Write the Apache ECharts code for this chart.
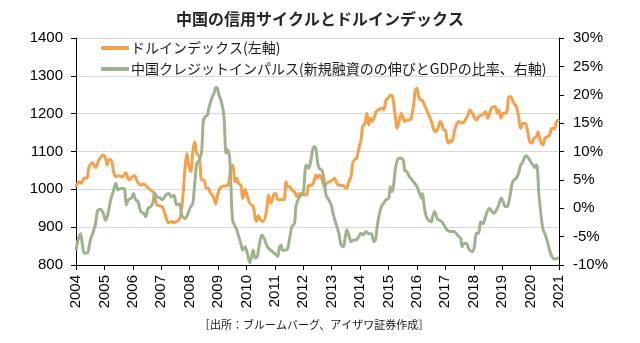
<!DOCTYPE html>
<html>
<head>
<meta charset="utf-8">
<script src="https://cdn.jsdelivr.net/npm/echarts@6/dist/echarts.min.js"></script>
<style>
html,body{margin:0;padding:0;background:#fff;}
#chart{width:640px;height:343px;}
</style>
</head>
<body>
<div id="chart"></div>
<script>
const titleText = '中国の信用サイクルとドルインデックス';
const sourceText = '［出所：ブルームバーグ、アイザワ証券作成］';
const dollarName = 'ドルインデックス(左軸)';
const impulseName = '中国クレジットインパルス(新規融資のの伸びとGDPの比率、右軸)';
const yearTicks = [2004, 2021];

const dollarYears = [2004.00,2004.11,2004.19,2004.28,2004.38,2004.46,2004.58,2004.69,2004.81,2004.95,2005.04,2005.10,2005.16,2005.24,2005.31,2005.40,2005.51,2005.63,2005.75,2005.87,2005.98,2006.07,2006.16,2006.28,2006.39,2006.49,2006.63,2006.75,2006.84,2006.96,2007.04,2007.16,2007.25,2007.39,2007.43,2007.54,2007.66,2007.75,2007.84,2007.90,2007.95,2008.04,2008.11,2008.18,2008.25,2008.34,2008.42,2008.51,2008.58,2008.66,2008.74,2008.83,2008.92,2008.98,2009.07,2009.19,2009.30,2009.37,2009.44,2009.51,2009.60,2009.66,2009.71,2009.80,2009.87,2009.95,2010.03,2010.12,2010.24,2010.34,2010.42,2010.50,2010.59,2010.71,2010.77,2010.83,2010.86,2010.95,2011.02,2011.10,2011.18,2011.27,2011.33,2011.39,2011.45,2011.53,2011.60,2011.69,2011.77,2011.86,2011.96,2012.04,2012.12,2012.19,2012.27,2012.35,2012.45,2012.51,2012.57,2012.66,2012.74,2012.82,2012.92,2013.03,2013.10,2013.18,2013.27,2013.36,2013.45,2013.53,2013.60,2013.68,2013.74,2013.80,2013.88,2013.97,2014.03,2014.09,2014.17,2014.24,2014.30,2014.36,2014.42,2014.51,2014.56,2014.65,2014.77,2014.83,2014.91,2014.98,2015.06,2015.12,2015.18,2015.24,2015.30,2015.38,2015.45,2015.50,2015.57,2015.65,2015.73,2015.80,2015.89,2015.94,2016.00,2016.06,2016.12,2016.18,2016.24,2016.32,2016.39,2016.47,2016.53,2016.59,2016.67,2016.74,2016.82,2016.88,2016.94,2017.00,2017.06,2017.12,2017.18,2017.23,2017.33,2017.41,2017.47,2017.55,2017.62,2017.70,2017.80,2017.86,2017.92,2018.01,2018.09,2018.17,2018.27,2018.36,2018.41,2018.50,2018.56,2018.62,2018.71,2018.76,2018.83,2018.88,2018.95,2019.03,2019.11,2019.18,2019.23,2019.30,2019.38,2019.50,2019.58,2019.65,2019.73,2019.82,2019.89,2019.97,2020.05,2020.12,2020.20,2020.26,2020.32,2020.38,2020.44,2020.50,2020.59,2020.67,2020.75,2020.85,2020.91,2020.97,2021.00];
const dollarValues = [1007,1020,1016,1029,1029,1060,1070,1058,1078,1091,1082,1064,1078,1078,1051,1033,1036,1033,1044,1025,1033,1036,1020,1011,1014,1007,998,989,959,956,954,928,912,915,912,915,923,972,1060,1095,1069,1047,1100,1126,1095,1086,1025,1025,1003,1003,989,981,961,985,1003,1009,1009,1016,1051,1064,1020,1029,1016,1011,976,1000,981,963,954,915,930,919,915,945,985,972,963,985,989,974,972,974,972,1020,1007,1007,998,994,981,988,989,985,985,1011,1011,1016,1038,1029,1038,1025,1007,1016,1020,1025,1029,1016,1011,1011,1007,1003,1020,1033,1069,1078,1082,1113,1130,1166,1174,1201,1170,1188,1179,1192,1205,1210,1214,1210,1236,1240,1249,1249,1227,1192,1161,1183,1201,1192,1179,1183,1183,1188,1227,1263,1267,1245,1236,1236,1227,1214,1201,1188,1174,1157,1152,1161,1179,1174,1157,1157,1130,1122,1130,1126,1157,1174,1179,1176,1176,1183,1196,1210,1205,1192,1183,1192,1196,1201,1205,1188,1201,1214,1218,1218,1201,1210,1188,1201,1201,1210,1245,1245,1232,1218,1192,1161,1174,1174,1157,1126,1122,1135,1139,1152,1135,1122,1117,1135,1139,1144,1161,1161,1179,1183,1185];

const impulseYears = [2004.00,2004.07,2004.16,2004.22,2004.28,2004.40,2004.46,2004.52,2004.61,2004.69,2004.77,2004.87,2004.96,2005.04,2005.13,2005.22,2005.31,2005.40,2005.48,2005.57,2005.69,2005.77,2005.84,2005.95,2006.02,2006.10,2006.18,2006.28,2006.39,2006.45,2006.54,2006.63,2006.70,2006.77,2006.86,2006.96,2007.04,2007.16,2007.27,2007.36,2007.45,2007.54,2007.64,2007.72,2007.84,2007.92,2008.01,2008.11,2008.19,2008.25,2008.34,2008.42,2008.48,2008.54,2008.62,2008.69,2008.78,2008.86,2008.93,2008.98,2009.03,2009.13,2009.21,2009.28,2009.33,2009.40,2009.44,2009.51,2009.60,2009.66,2009.71,2009.80,2009.87,2009.95,2010.03,2010.12,2010.18,2010.24,2010.30,2010.38,2010.45,2010.54,2010.62,2010.71,2010.78,2010.86,2010.95,2011.04,2011.10,2011.16,2011.22,2011.27,2011.37,2011.45,2011.53,2011.60,2011.69,2011.74,2011.84,2011.92,2012.00,2012.07,2012.12,2012.19,2012.27,2012.33,2012.39,2012.45,2012.51,2012.57,2012.66,2012.74,2012.80,2012.86,2012.98,2013.06,2013.15,2013.25,2013.33,2013.41,2013.48,2013.53,2013.60,2013.68,2013.76,2013.86,2013.95,2014.03,2014.11,2014.21,2014.30,2014.40,2014.48,2014.54,2014.60,2014.68,2014.75,2014.83,2014.91,2015.01,2015.06,2015.12,2015.18,2015.24,2015.30,2015.36,2015.45,2015.53,2015.57,2015.65,2015.73,2015.83,2015.92,2016.00,2016.09,2016.16,2016.20,2016.24,2016.30,2016.36,2016.41,2016.51,2016.55,2016.62,2016.71,2016.79,2016.88,2016.98,2017.06,2017.18,2017.29,2017.38,2017.47,2017.54,2017.59,2017.66,2017.74,2017.82,2017.92,2017.97,2018.03,2018.09,2018.17,2018.24,2018.33,2018.41,2018.50,2018.56,2018.64,2018.71,2018.80,2018.88,2018.97,2019.03,2019.11,2019.18,2019.27,2019.35,2019.42,2019.50,2019.58,2019.65,2019.73,2019.79,2019.86,2019.93,2020.00,2020.09,2020.14,2020.20,2020.24,2020.29,2020.36,2020.44,2020.52,2020.59,2020.67,2020.75,2020.85,2020.94,2021.00];
const impulseValues = [-7.4,-5.6,-4.5,-6.2,-7.8,-7.9,-6.8,-5.3,-4.1,-2.7,-0.3,-0.2,-0.9,-2.1,-0.9,1.5,2.9,4.4,3.2,3.5,3.5,0.6,1.5,1.8,2.6,1.5,1.2,-0.6,-0.9,-1.5,0.0,0.3,0.9,2.6,2.0,1.8,1.5,2.3,2.6,2.0,2.3,0.6,0.8,-1.2,-1.8,-1.2,0.0,0.9,5.0,7.9,8.5,10.0,15.3,16.1,16.4,17.9,19.4,20.3,21.3,21.1,20.0,18.5,16.1,9.7,10.3,9.4,5.6,-2.1,-3.2,-3.8,-4.7,-6.2,-7.4,-6.8,-7.9,-9.6,-8.5,-7.4,-8.8,-8.5,-6.5,-4.7,-5.3,-6.5,-7.1,-7.4,-7.8,-8.2,-8.5,-6.8,-6.5,-7.4,-7.4,-7.1,-5.0,-3.2,-2.7,0.3,1.8,2.3,2.6,7.0,7.6,7.0,8.5,10.3,10.9,10.3,7.9,7.0,6.7,4.7,2.3,1.8,0.6,-1.2,-2.7,-4.4,-6.5,-6.8,-5.0,-3.8,-4.7,-5.9,-5.6,-5.6,-5.0,-4.4,-4.7,-4.1,-4.5,-4.5,-5.9,-5.6,-3.2,-0.9,0.3,0.9,1.5,1.8,3.8,2.9,4.1,7.0,8.2,8.8,8.8,8.2,6.7,6.4,5.6,5.0,4.4,3.8,2.6,1.8,2.6,0.9,-0.9,-1.8,-2.1,-2.4,-1.5,-0.6,-1.8,-2.1,-2.4,-3.2,-3.8,-4.1,-4.1,-4.4,-5.0,-5.3,-6.8,-6.2,-6.2,-7.1,-7.6,-7.6,-6.5,-4.4,-4.4,-2.4,-2.7,-1.5,-0.3,0.0,-0.6,-0.9,-0.3,0.6,1.8,1.2,0.3,0.3,2.0,4.4,5.0,5.3,6.2,7.6,8.2,9.0,9.2,8.8,8.2,7.6,7.2,7.6,7.0,2.6,-0.9,-3.8,-4.7,-5.9,-7.4,-8.5,-9.0,-8.8,-8.8];

const leftAxisRange = [800, 1400, 100];
const rightAxisRange = [-10, 30, 5];

const chart = echarts.init(document.getElementById('chart'), null, {renderer: 'canvas'});
const labelFont = 'Liberation Sans, Arial, sans-serif';
const cjkFont = '"Noto Sans CJK JP", sans-serif';

chart.setOption({
  animation: false,
  backgroundColor: '#fff',
  title: {
    text: titleText,
    left: 'center',
    top: 6,
    textStyle: {fontFamily: cjkFont, fontSize: 16, fontWeight: 'bold', color: '#262626'}
  },
  legend: {
    orient: 'vertical',
    left: 96,
    top: 36,
    itemGap: 7,
    itemWidth: 28,
    itemHeight: 4,
    icon: 'rect',
    data: [dollarName, impulseName],
    textStyle: {fontFamily: cjkFont, fontSize: 14, color: '#1a1a1a', padding: [0,0,0,-3]}
  },
  grid: {left: 76, right: 81, top: 38, bottom: 78, containLabel: false},
  xAxis: {
    type: 'value',
    min: yearTicks[0],
    max: yearTicks[1],
    interval: 1,
    axisLine: {show: true, onZero: false, lineStyle: {color: '#000', width: 1}},
    axisTick: {show: true, length: 5, lineStyle: {color: '#000'}},
    splitLine: {show: false},
    axisLabel: {rotate: 90, margin: 10, fontFamily: labelFont, fontSize: 15, color: '#000', formatter: v => String(v)}
  },
  yAxis: [
    {
      type: 'value',
      min: leftAxisRange[0], max: leftAxisRange[1], interval: leftAxisRange[2],
      axisLine: {show: true, lineStyle: {color: '#000'}},
      axisTick: {show: true, length: 5, lineStyle: {color: '#000'}},
      splitLine: {show: true, lineStyle: {color: '#D9D9D9', width: 1}},
      axisLabel: {margin: 13, fontFamily: labelFont, fontSize: 15, color: '#000', formatter: v => String(v)}
    },
    {
      type: 'value',
      min: rightAxisRange[0], max: rightAxisRange[1], interval: rightAxisRange[2],
      position: 'right',
      axisLine: {show: true, lineStyle: {color: '#000'}},
      axisTick: {show: true, length: 5, lineStyle: {color: '#000'}},
      splitLine: {show: false},
      axisLabel: {margin: 14, fontFamily: labelFont, fontSize: 15, color: '#000', formatter: v => v + '%'}
    }
  ],
  series: [
    {
      name: dollarName,
      type: 'line',
      yAxisIndex: 0,
      showSymbol: false,
      smooth: 0.3,
      color: '#F5A04A',
      lineStyle: {width: 3, color: '#F5A04A'},
      data: dollarYears.map((y, i) => [y, dollarValues[i]])
    },
    {
      name: impulseName,
      type: 'line',
      yAxisIndex: 1,
      showSymbol: false,
      smooth: 0.3,
      color: '#9DB38D',
      lineStyle: {width: 3, color: '#9DB38D'},
      data: impulseYears.map((y, i) => [y, impulseValues[i]])
    }
  ],
  graphic: [{
    type: 'text',
    left: 199,
    top: 319,
    style: {text: sourceText, fontFamily: cjkFont, fontSize: 11, fill: '#1a1a1a'}
  }]
});
</script>
</body>
</html>
